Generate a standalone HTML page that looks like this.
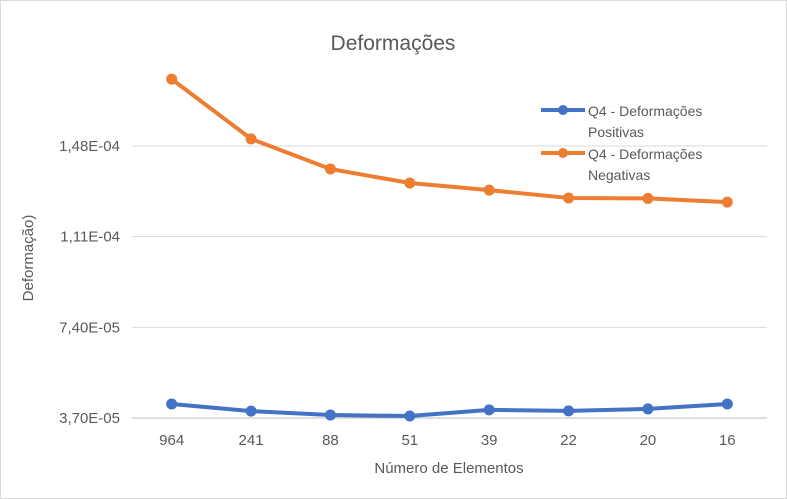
<!DOCTYPE html>
<html><head><meta charset="utf-8">
<style>
html,body{margin:0;padding:0;background:#fff;}
svg{display:block;font-family:"Liberation Sans",sans-serif;}
</style></head>
<body>
<svg id="chart" width="787" height="499" viewBox="0 0 787 499">
<rect x="0.5" y="0.5" width="786" height="498" fill="#fff" stroke="#d9d9d9"/>
<text x="393" y="50" text-anchor="middle" font-size="21" fill="#595959">Deformações</text>
<text transform="translate(33,258) rotate(-90)" text-anchor="middle" font-size="15" fill="#595959">Deformação)</text>
<text x="449" y="473" text-anchor="middle" font-size="15" fill="#595959">Número de Elementos</text>
<g id="grid"></g>
<g id="series"></g>
<g>
<g>
<line x1="541" y1="110" x2="585" y2="110" stroke="#4472c4" stroke-width="4"/>
<circle cx="563" cy="110" r="5" fill="#4472c4"/>
<text x="588" y="116" font-size="14" fill="#595959">Q4 - Deformações</text>
<text x="588" y="137" font-size="14" fill="#595959">Positivas</text>
</g>
<g>
<line x1="541" y1="153" x2="585" y2="153" stroke="#ed7d31" stroke-width="4"/>
<circle cx="563" cy="153" r="5" fill="#ed7d31"/>
<text x="588" y="159" font-size="14" fill="#595959">Q4 - Deformações</text>
<text x="588" y="180" font-size="14" fill="#595959">Negativas</text>
</g>
</g>
</svg>
<script>
const categories = ["964","241","88","51","39","22","20","16"];
const positivas = [4.27e-5,3.98e-5,3.82e-5,3.78e-5,4.03e-5,3.99e-5,4.07e-5,4.27e-5];
const negativas = [1.753e-4,1.509e-4,1.386e-4,1.329e-4,1.300e-4,1.268e-4,1.266e-4,1.251e-4];
const yTicks = [3.7e-5,7.4e-5,1.11e-4,1.48e-4];
const yTickLabels = ["3,70E-05","7,40E-05","1,11E-04","1,48E-04"];

const NS="http://www.w3.org/2000/svg";
const plotL=132, plotR=767, y0=418, yMin=3.7e-5, pxPerUnit=90.67/3.7e-5;
const step=(plotR-plotL)/categories.length;
function xs(i){return plotL+step*(i+0.5);}
function ys(v){return y0-(v-yMin)*pxPerUnit;}
function mk(tag,attrs,parent){const e=document.createElementNS(NS,tag);for(const k in attrs)e.setAttribute(k,attrs[k]);parent.appendChild(e);return e;}
const grid=document.getElementById('grid');
yTicks.forEach((t,i)=>{
  const y=ys(t);
  const l=mk('line',{x1:plotL,x2:plotR,y1:y,y2:y,stroke:i===0?'#bfbfbf':'#d9d9d9','stroke-width':1},grid);
  
  
  const tx=mk('text',{x:plotL-12,y:y+5,'text-anchor':'end','font-size':15,fill:'#595959'},grid);
  tx.textContent=yTickLabels[i];
  
  
});
categories.forEach((c,i)=>{
  const tx=mk('text',{x:xs(i),y:445,'text-anchor':'middle','font-size':15,fill:'#595959'},grid);
  tx.textContent=c;
  
  
});
const sg=document.getElementById('series');
function drawSeries(vals,color,name){
  const g=mk('g',{},sg);
  
  
  const p=mk('polyline',{points:vals.map((v,i)=>xs(i)+','+ys(v)).join(' '),fill:'none',stroke:color,'stroke-width':4,'stroke-linejoin':'round'},g);
  
  
  vals.forEach((v,i)=>{
    const c=mk('circle',{cx:xs(i),cy:ys(v),r:5.5,fill:color},g);
    
    
  });
}
drawSeries(positivas,'#4472c4','series-positivas');
drawSeries(negativas,'#ed7d31','series-negativas');
</script>
</body></html>
